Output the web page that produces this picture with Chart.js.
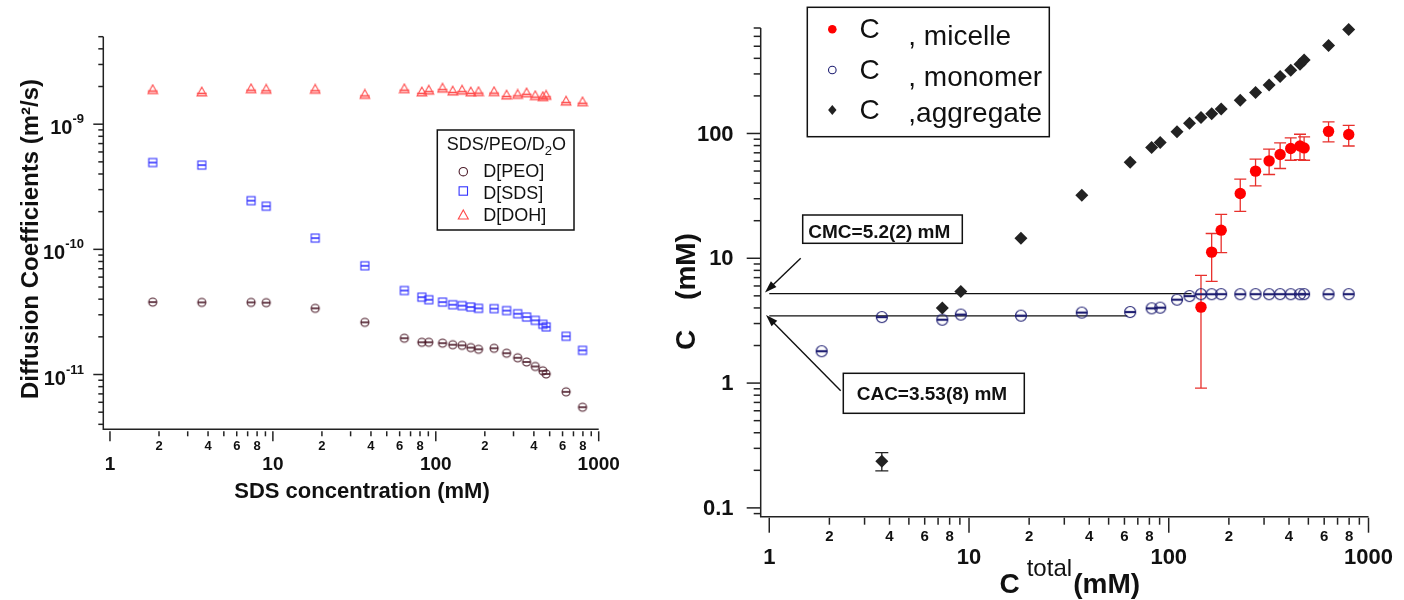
<!DOCTYPE html>
<html>
<head>
<meta charset="utf-8">
<script src="https://cdn.jsdelivr.net/npm/chart.js@4.4.1/dist/chart.umd.min.js"></script>
<style>
    html, body { margin: 0; padding: 0; background: #fff; }
    #page { position: relative; width: 1404px; height: 600px; overflow: hidden; }
    #diffChart { position: absolute; left: 0; top: 0; }
    #concChart { position: absolute; left: 660px; top: 0; }
</style>
</head>
<body>
<div id="page">
    <canvas id="diffChart" width="660" height="600"></canvas>
    <canvas id="concChart" width="744" height="600"></canvas>
</div>
<script>
// SDS total concentration (mM), shared by both panels
const concentration = [1.83, 3.66, 7.35, 9.1, 18.2, 36.7, 64.1, 82.1, 90.6, 110, 127, 145, 164, 183, 228, 272, 318, 361, 408, 454, 476, 631, 796];

// left panel: diffusion coefficients (m2/s)
const dPEO = [3.79e-11, 3.77e-11, 3.77e-11, 3.75e-11, 3.38e-11, 2.61e-11, 1.95e-11, 1.81e-11, 1.81e-11, 1.78e-11, 1.73e-11, 1.71e-11, 1.64e-11, 1.59e-11, 1.62e-11, 1.48e-11, 1.36e-11, 1.26e-11, 1.16e-11, 1.07e-11, 1.01e-11, 7.27e-12, 5.48e-12];
const dSDS = [4.94e-10, 4.71e-10, 2.45e-10, 2.21e-10, 1.23e-10, 7.39e-11, 4.69e-11, 4.15e-11, 3.96e-11, 3.79e-11, 3.61e-11, 3.55e-11, 3.46e-11, 3.38e-11, 3.36e-11, 3.24e-11, 3.06e-11, 2.88e-11, 2.71e-11, 2.52e-11, 2.40e-11, 2.02e-11, 1.56e-11];
const dDOH = [1.89e-9, 1.81e-9, 1.92e-9, 1.90e-9, 1.90e-9, 1.73e-9, 1.92e-9, 1.81e-9, 1.87e-9, 1.94e-9, 1.84e-9, 1.87e-9, 1.81e-9, 1.82e-9, 1.82e-9, 1.71e-9, 1.73e-9, 1.78e-9, 1.69e-9, 1.66e-9, 1.70e-9, 1.53e-9, 1.51e-9];

// right panel: concentrations (mM), null = no point
const cMonomer = [1.80, 3.38, 3.22, 3.54, 3.47, 3.67, 3.71, 3.97, 4.02, 4.66, 4.98, 5.15, 5.15, 5.16, 5.15, 5.16, 5.15, 5.16, 5.15, 5.15, 5.16, 5.15, 5.16];
const cAggregate = [null, 0.236, 3.99, 5.43, 14.5, 32, 58.9, 77.3, 84.7, 103, 121, 134, 144, 157, 185, 213, 245, 286, 321, 359, 387, 508, 682];
const aggregateLow = [null, 0.198];
const aggregateHigh = [null, 0.277];
const cMicelle = [null, null, null, null, null, null, null, null, null, null, null, 4.06, 11.2, 16.8, 33, 49.9, 60.3, 67.8, 75.7, 79.4, 76.6, 104, 98.1];
const micelleLow = [null, null, null, null, null, null, null, null, null, null, null, 0.91, 6.53, 11.1, 23.8, 38, 46.9, 52.4, 61, 61.7, 61, 85.5, 79.4];
const micelleHigh = [null, null, null, null, null, null, null, null, null, null, null, 7.3, 15.8, 22.5, 43, 62.2, 74.8, 84.1, 92.2, 98.6, 93.9, 124, 116];

// reference lines (mM)
const cmcValue = 5.2;
const cmcRange = [1, 130];
const cacValue = 3.45;
const cacRange = [1, 62];

// tick labels
const xMajorValues = [1, 10, 100, 1000];
const xMajorLabels = ['1', '10', '100', '1000'];
const minorLabels = ['2', '4', '6', '8'];
const diffMajorValues = [1e-9, 1e-10, 1e-11];
const diffExponents = ['-9', '-10', '-11'];
const concMajorValues = [0.1, 1, 10, 100];
const concMajorLabels = ['0.1', '1', '10', '100'];

const FONT = "'Liberation Sans', Arial, Helvetica, sans-serif";

function points(values) {
    return concentration.map((x, i) => ({ x: x, y: values[i] })).filter(p => p.y != null);
}

function makeMarker(size, draw) {
    const c = document.createElement('canvas');
    c.width = size;
    c.height = size;
    const ctx = c.getContext('2d');
    ctx.translate(size / 2, size / 2);
    draw(ctx);
    return c;
}

function circle(ctx, r, color, lw) {
    ctx.strokeStyle = color;
    ctx.lineWidth = lw;
    ctx.beginPath();
    ctx.arc(0, 0, r, 0, Math.PI * 2);
    ctx.stroke();
}
function square(ctx, r, color, lw) {
    ctx.strokeStyle = color;
    ctx.lineWidth = lw;
    ctx.strokeRect(-r, -r, r * 2, r * 2);
}
function triangle(ctx, r, color, lw) {
    ctx.strokeStyle = color;
    ctx.lineWidth = lw;
    ctx.beginPath();
    ctx.moveTo(0, -r);
    ctx.lineTo(r, r * 0.8);
    ctx.lineTo(-r, r * 0.8);
    ctx.closePath();
    ctx.stroke();
}
function bar(ctx, r, y, color, lw) {
    ctx.strokeStyle = color;
    ctx.lineWidth = lw;
    ctx.beginPath();
    ctx.moveTo(-r, y);
    ctx.lineTo(r, y);
    ctx.stroke();
}

const peoColor = '#4b1a28', sdsColor = '#3434ff', dohColor = '#ff4a4a';
const peoMarker = makeMarker(12, ctx => { circle(ctx, 4, peoColor, 1.1); bar(ctx, 4, 0, peoColor, 1.6); });
const sdsMarker = makeMarker(12, ctx => { square(ctx, 4, sdsColor, 1.1); bar(ctx, 4, 0, sdsColor, 1.6); });
const dohMarker = makeMarker(12, ctx => { triangle(ctx, 4.8, dohColor, 1.1); bar(ctx, 4.8, 1.5, dohColor, 1.6); });
const monoColor = '#1f1f72';
const monoMarker = makeMarker(14, ctx => { circle(ctx, 5.5, monoColor, 1.2); bar(ctx, 5.5, 0, monoColor, 2.2); });

// log ticks 1..9 per decade inside [min, max]
function logTicks(min, max) {
    const out = [];
    for (let e = Math.floor(Math.log10(min)); e <= Math.ceil(Math.log10(max)); e++) {
        for (let m = 1; m <= 9; m++) {
            const v = m * Math.pow(10, e);
            if (v >= min * 0.999 && v <= max * 1.001) out.push({ v: v, m: m });
        }
    }
    return out;
}

function drawFrame(chart, o) {
    const { ctx, chartArea: a } = chart;
    const x = chart.scales.x, y = chart.scales.y;
    ctx.save();
    ctx.strokeStyle = '#222';
    ctx.lineWidth = 1.5;
    ctx.beginPath();
    ctx.moveTo(a.left, a.top);
    ctx.lineTo(a.left, a.bottom);
    ctx.lineTo(a.right, a.bottom);
    ctx.stroke();

    ctx.fillStyle = '#111';
    ctx.textAlign = 'center';
    ctx.textBaseline = 'middle';
    logTicks(x.min, x.max).forEach(t => {
        const px = x.getPixelForValue(t.v);
        if (px < a.left + 1) return;
        const len = t.m === 1 ? o.xMajorLen : o.xMinorLen;
        ctx.beginPath();
        ctx.moveTo(px, a.bottom + o.xGap);
        ctx.lineTo(px, a.bottom + o.xGap + len);
        ctx.stroke();
        if (minorLabels.includes(String(t.m))) {
            ctx.font = 'bold ' + o.minorFont + 'px ' + FONT;
            ctx.fillText(String(t.m), px, o.minorY);
        }
    });
    ctx.font = 'bold ' + o.majorFont + 'px ' + FONT;
    xMajorValues.forEach((v, i) => ctx.fillText(xMajorLabels[i], x.getPixelForValue(v), o.majorY));

    logTicks(y.min, y.max).forEach(t => {
        const py = y.getPixelForValue(t.v);
        const len = t.m === 1 ? o.yMajorLen : o.yMinorLen;
        ctx.beginPath();
        ctx.moveTo(a.left, py);
        ctx.lineTo(a.left - len, py);
        ctx.stroke();
    });
    ctx.restore();
}

function drawErrorBars(chart, lows, highs, color, half) {
    const { ctx } = chart;
    const x = chart.scales.x, y = chart.scales.y;
    ctx.save();
    ctx.strokeStyle = color;
    ctx.lineWidth = 1.3;
    lows.forEach((lo, i) => {
        if (lo == null) return;
        const px = x.getPixelForValue(concentration[i]);
        const p1 = y.getPixelForValue(lo), p2 = y.getPixelForValue(highs[i]);
        ctx.beginPath();
        ctx.moveTo(px, p1); ctx.lineTo(px, p2);
        ctx.moveTo(px - half, p1); ctx.lineTo(px + half, p1);
        ctx.moveTo(px - half, p2); ctx.lineTo(px + half, p2);
        ctx.stroke();
    });
    ctx.restore();
}

function arrow(ctx, x1, y1, x2, y2) {
    const ang = Math.atan2(y2 - y1, x2 - x1);
    ctx.beginPath();
    ctx.moveTo(x1, y1);
    ctx.lineTo(x2 - Math.cos(ang) * 8, y2 - Math.sin(ang) * 8);
    ctx.stroke();
    ctx.beginPath();
    ctx.moveTo(x2, y2);
    ctx.lineTo(x2 - Math.cos(ang) * 12 + Math.sin(ang) * 4, y2 - Math.sin(ang) * 12 - Math.cos(ang) * 4);
    ctx.lineTo(x2 - Math.cos(ang) * 12 - Math.sin(ang) * 4, y2 - Math.sin(ang) * 12 + Math.cos(ang) * 4);
    ctx.closePath();
    ctx.fill();
}

const diffDecor = {
    id: 'diffDecor',
    afterDraw(chart) {
        const { ctx } = chart;
        const y = chart.scales.y;
        drawFrame(chart, { xGap: 2, xMajorLen: 10, xMinorLen: 5, yMajorLen: 10, yMinorLen: 5,
            minorFont: 13, minorY: 446.7, majorFont: 19, majorY: 464.3 });

        ctx.save();
        ctx.fillStyle = '#111';
        // y tick labels 10^n
        diffMajorValues.forEach((v, i) => {
            const py = y.getPixelForValue(v);
            ctx.textAlign = 'right';
            ctx.textBaseline = 'alphabetic';
            ctx.font = 'bold 13px ' + FONT;
            const w = ctx.measureText(diffExponents[i]).width;
            ctx.fillText(diffExponents[i], 84, py - 1);
            ctx.font = 'bold 20px ' + FONT;
            ctx.fillText('10', 84 - w, py + 10);
        });

        // axis titles
        ctx.font = 'bold 22px ' + FONT;
        ctx.textAlign = 'center';
        ctx.textBaseline = 'middle';
        ctx.fillText('SDS concentration (mM)', 362, 492);
        ctx.save();
        ctx.translate(31, 239);
        ctx.rotate(-Math.PI / 2);
        ctx.font = 'bold 24px ' + FONT;
        ctx.fillText('Diffusion Coefficients (m\u00b2/s)', 0, 0);
        ctx.restore();

        // legend
        ctx.strokeStyle = '#111';
        ctx.lineWidth = 1.5;
        ctx.strokeRect(437.3, 130, 136.7, 100);
        ctx.textAlign = 'left';
        ctx.textBaseline = 'alphabetic';
        ctx.font = '18px ' + FONT;
        let tx = 446.7;
        ctx.fillText('SDS/PEO/D', tx, 150);
        tx += ctx.measureText('SDS/PEO/D').width;
        ctx.font = '13px ' + FONT;
        ctx.fillText('2', tx, 155);
        tx += ctx.measureText('2').width;
        ctx.font = '18px ' + FONT;
        ctx.fillText('O', tx, 150);

        const names = ['D[PEO]', 'D[SDS]', 'D[DOH]'];
        const rowY = [171.7, 191, 215];
        const baseY = [177.3, 199.3, 221];
        const shapes = [
            c => circle(c, 4.2, peoColor, 1.1),
            c => square(c, 4.2, sdsColor, 1.1),
            c => triangle(c, 5, dohColor, 1.1)
        ];
        names.forEach((n, i) => {
            ctx.save();
            ctx.translate(463.3, rowY[i]);
            shapes[i](ctx);
            ctx.restore();
            ctx.fillStyle = '#111';
            ctx.fillText(n, 483.3, baseY[i]);
        });
        ctx.restore();
    }
};

const concDecor = {
    id: 'concDecor',
    beforeDatasetsDraw(chart) {
        drawErrorBars(chart, micelleLow, micelleHigh, '#e8302c', 6);
        drawErrorBars(chart, aggregateLow, aggregateHigh, '#222', 6.5);
    },
    afterDraw(chart) {
        const { ctx } = chart;
        const y = chart.scales.y;
        drawFrame(chart, { xGap: 1, xMajorLen: 15, xMinorLen: 7, yMajorLen: 14, yMinorLen: 7,
            minorFont: 15, minorY: 537, majorFont: 22, majorY: 558 });

        ctx.save();
        ctx.fillStyle = '#111';
        ctx.font = 'bold 22px ' + FONT;
        ctx.textAlign = 'right';
        ctx.textBaseline = 'middle';
        concMajorValues.forEach((v, i) => ctx.fillText(concMajorLabels[i], 73.6, y.getPixelForValue(v) + 1));

        // axis titles
        ctx.textAlign = 'left';
        ctx.font = 'bold 28px ' + FONT;
        ctx.fillText('C', 339.5, 585);
        ctx.font = '24px ' + FONT;
        ctx.fillText('total', 366.7, 569);
        ctx.font = 'bold 28px ' + FONT;
        ctx.fillText('(mM)', 413.3, 585);
        ctx.save();
        ctx.translate(27, 0);
        ctx.rotate(-Math.PI / 2);
        ctx.textAlign = 'center';
        ctx.fillText('C', -340, 0);
        ctx.fillText('(mM)', -266.5, 0);
        ctx.restore();

        // legend
        ctx.strokeStyle = '#111';
        ctx.lineWidth = 1.5;
        ctx.strokeRect(147.3, 7.3, 242, 129.4);
        const rowY = [29.3, 70, 110];
        const cBase = [37.5, 79, 119];
        const sBase = [45, 86, 121.7];
        const suffix = [', micelle', ', monomer', ',aggregate'];
        ctx.fillStyle = '#ff0000';
        ctx.beginPath();
        ctx.arc(172.3, rowY[0], 4.3, 0, Math.PI * 2);
        ctx.fill();
        ctx.save();
        ctx.translate(172.3, rowY[1]);
        circle(ctx, 3.8, monoColor, 1.1);
        ctx.restore();
        ctx.fillStyle = '#222';
        ctx.beginPath();
        ctx.moveTo(172.3, rowY[2] - 5);
        ctx.lineTo(176.5, rowY[2]);
        ctx.lineTo(172.3, rowY[2] + 5);
        ctx.lineTo(168.1, rowY[2]);
        ctx.closePath();
        ctx.fill();
        ctx.fillStyle = '#111';
        ctx.textBaseline = 'alphabetic';
        suffix.forEach((s, i) => {
            ctx.font = '28px ' + FONT;
            ctx.fillText('C', 199.5, cBase[i]);
            ctx.fillText(s, 248.3, sBase[i]);
        });

        // annotations
        ctx.fillStyle = '#fff';
        ctx.fillRect(142.7, 215, 159.6, 28.3);
        ctx.fillRect(183.3, 373.3, 181, 40);
        ctx.strokeRect(142.7, 215, 159.6, 28.3);
        ctx.strokeRect(183.3, 373.3, 181, 40);
        ctx.fillStyle = '#111';
        ctx.font = 'bold 19px ' + FONT;
        ctx.fillText('CMC=5.2(2) mM', 148.3, 238.3);
        ctx.fillText('CAC=3.53(8) mM', 196.7, 400);
        ctx.lineWidth = 1.4;
        arrow(ctx, 140.7, 258.3, 105, 292.5);
        arrow(ctx, 180.7, 390.7, 106, 315);
        ctx.restore();
    }
};

new Chart(document.getElementById('diffChart'), {
    type: 'scatter',
    data: {
        datasets: [
            { label: 'D[PEO]', data: points(dPEO), pointStyle: peoMarker, pointRadius: 5 },
            { label: 'D[SDS]', data: points(dSDS), pointStyle: sdsMarker, pointRadius: 5 },
            { label: 'D[DOH]', data: points(dDOH), pointStyle: dohMarker, pointRadius: 5 }
        ]
    },
    options: {
        responsive: false,
        animation: false,
        devicePixelRatio: 1,
        clip: false,
        layout: { padding: { left: 103.3, right: 61.3, top: 36.7, bottom: 170.7 } },
        scales: {
            x: { type: 'logarithmic', min: 0.91, max: 1000, display: false },
            y: { type: 'logarithmic', min: 3.65e-12, max: 5e-9, display: false }
        },
        plugins: { legend: { display: false }, tooltip: { enabled: false } }
    },
    plugins: [diffDecor]
});

new Chart(document.getElementById('concChart'), {
    type: 'scatter',
    data: {
        datasets: [
            { label: 'C micelle', data: points(cMicelle), pointStyle: 'circle', pointRadius: 5.7,
              backgroundColor: '#ff0000', borderColor: '#ff0000', borderWidth: 0, clip: false },
            { label: 'C aggregate', data: points(cAggregate), pointStyle: 'rectRot', pointRadius: 6.5,
              backgroundColor: '#222', borderColor: '#222', borderWidth: 0, clip: false },
            { label: 'C monomer', data: points(cMonomer), pointStyle: monoMarker, pointRadius: 6, clip: false },
            { label: 'CMC', type: 'line', showLine: true, pointRadius: 0, borderColor: '#111', borderWidth: 1.2,
              data: cmcRange.map(x => ({ x: x, y: cmcValue })) },
            { label: 'CAC', type: 'line', showLine: true, pointRadius: 0, borderColor: '#111', borderWidth: 1.2,
              data: cacRange.map(x => ({ x: x, y: cacValue })) }
        ]
    },
    options: {
        responsive: false,
        animation: false,
        devicePixelRatio: 1,
        layout: { padding: { left: 100.7, right: 35.5, top: 28, bottom: 83.3 } },
        scales: {
            x: { type: 'logarithmic', min: 0.906, max: 1000, display: false },
            y: { type: 'logarithmic', min: 0.085, max: 700, display: false }
        },
        plugins: { legend: { display: false }, tooltip: { enabled: false } }
    },
    plugins: [concDecor]
});
</script>
</body>
</html>
